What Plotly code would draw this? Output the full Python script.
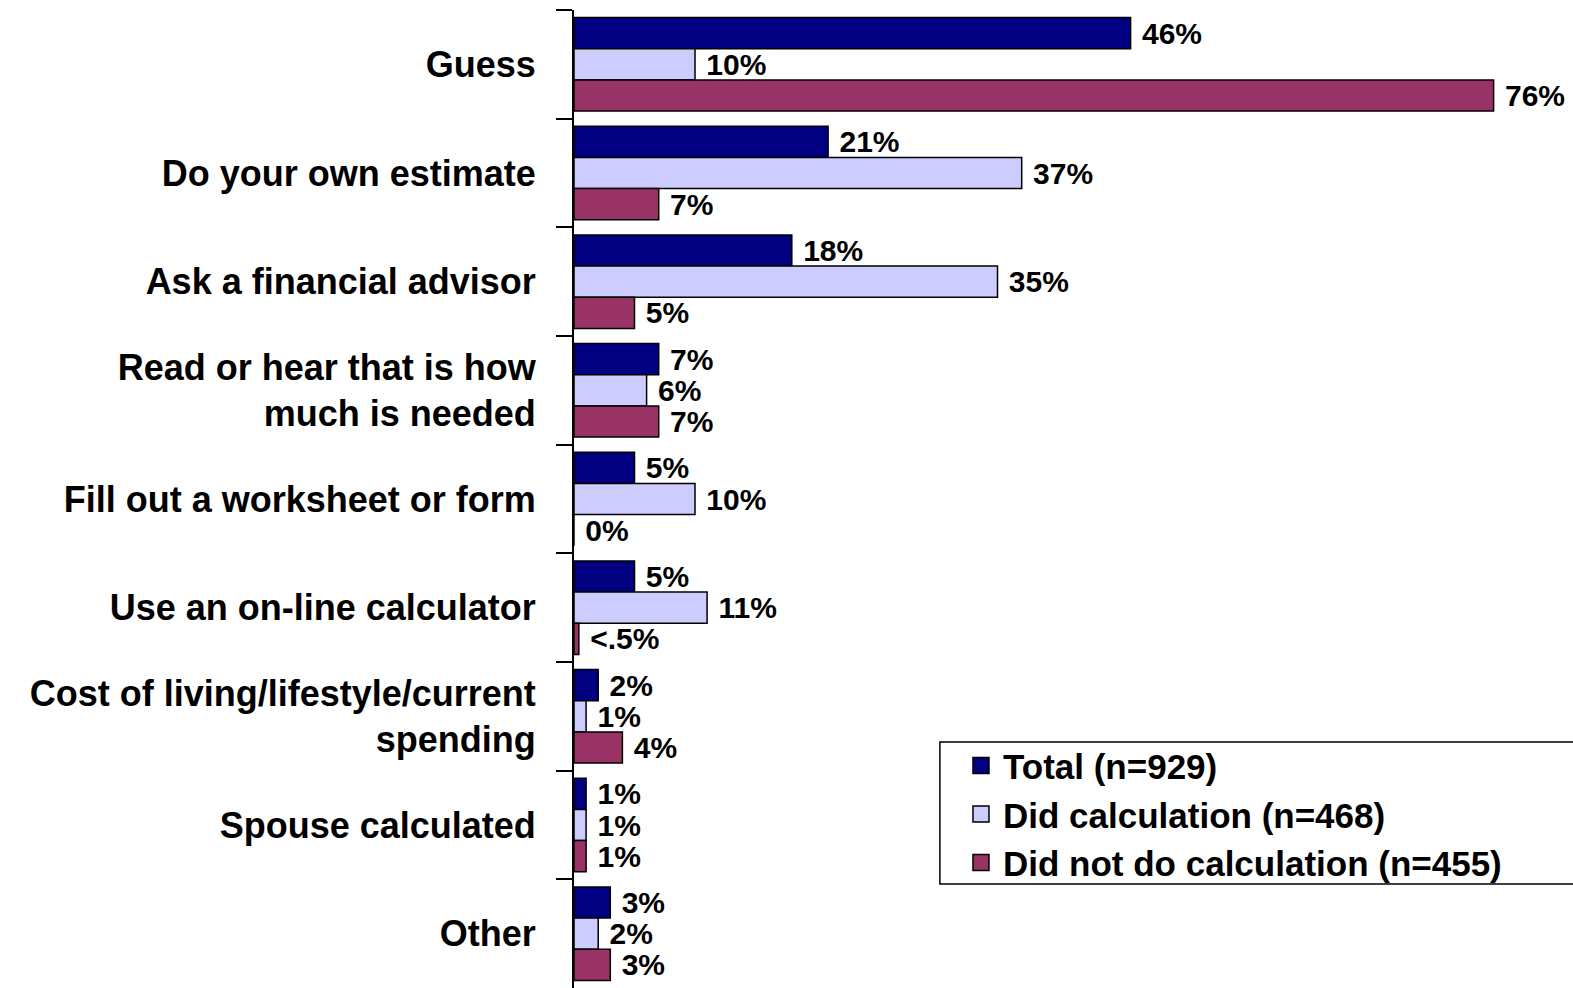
import plotly.graph_objects as go

categories = [
    "Guess",
    "Do your own estimate",
    "Ask a financial advisor",
    "Read or hear that is how<br>much is needed",
    "Fill out a worksheet or form",
    "Use an on-line calculator",
    "Cost of living/lifestyle/current<br>spending",
    "Spouse calculated",
    "Other",
]

series_names = ["Total (n=929)", "Did calculation (n=468)", "Did not do calculation (n=455)"]

total = [46, 21, 18, 7, 5, 5, 2, 1, 3]
did_calc = [10, 37, 35, 6, 10, 11, 1, 1, 2]
did_not = [76, 7, 5, 7, 0, 0.4, 4, 1, 3]

total_labels = ["46%", "21%", "18%", "7%", "5%", "5%", "2%", "1%", "3%"]
did_calc_labels = ["10%", "37%", "35%", "6%", "10%", "11%", "1%", "1%", "2%"]
did_not_labels = ["76%", "7%", "5%", "7%", "0%", "<.5%", "4%", "1%", "3%"]

colors = ["#000080", "#CCCCFF", "#993366"]

FONT = "Liberation Sans, Arial, sans-serif"

fig = go.Figure()
for name, vals, labels, color in zip(
    series_names,
    [total, did_calc, did_not],
    [total_labels, did_calc_labels, did_not_labels],
    colors,
):
    fig.add_trace(go.Bar(
        y=categories,
        x=vals,
        orientation="h",
        name=name,
        marker=dict(color=color, line=dict(color="#000000", width=1.5)),
        text=["\u00a0" + t for t in labels],
        textposition="outside",
        constraintext="none",
        cliponaxis=False,
        textfont=dict(family=FONT, size=30, color="#000000", weight="bold"),
        showlegend=False,
    ))
    # legend entry with a larger square swatch
    fig.add_trace(go.Scatter(
        x=[None], y=[None],
        mode="markers",
        name=name,
        marker=dict(symbol="square", size=16, color=color,
                    line=dict(color="#000000", width=1.5)),
        showlegend=True,
    ))

# legend frame, open on the right where it runs off the page
fig.add_shape(
    type="rect", xref="paper", yref="paper",
    x0=0.378, x1=1.1, y0=0.1063, y1=0.2515,
    line=dict(color="#000000", width=1.5),
    fillcolor="rgba(0,0,0,0)",
)

fig.update_layout(
    width=1573,
    height=988,
    margin=dict(l=574, r=31, t=10, b=0),
    paper_bgcolor="#ffffff",
    plot_bgcolor="#ffffff",
    barmode="group",
    bargap=0.14,
    bargroupgap=0,
    font=dict(family=FONT, color="#000000"),
    legend=dict(
        x=0.3977, y=0.2575, xanchor="left", yanchor="top",
        borderwidth=0,
        bgcolor="rgba(0,0,0,0)",
        font=dict(family=FONT, size=35, color="#000000", weight="bold"),
        tracegroupgap=0,
        itemwidth=34,
    ),
    xaxis=dict(
        range=[0, 80],
        visible=False,
        showgrid=False,
        zeroline=False,
    ),
    yaxis=dict(
        autorange="reversed",
        type="category",
        showline=True,
        linecolor="#000000",
        linewidth=2,
        ticks="outside",
        ticklen=16,
        tickwidth=2,
        tickcolor="#000000",
        tickson="boundaries",
        ticklabelstandoff=29,
        showgrid=False,
        tickfont=dict(family=FONT, size=36, color="#000000", weight="bold"),
    ),
)

fig.write_html("out.html")
